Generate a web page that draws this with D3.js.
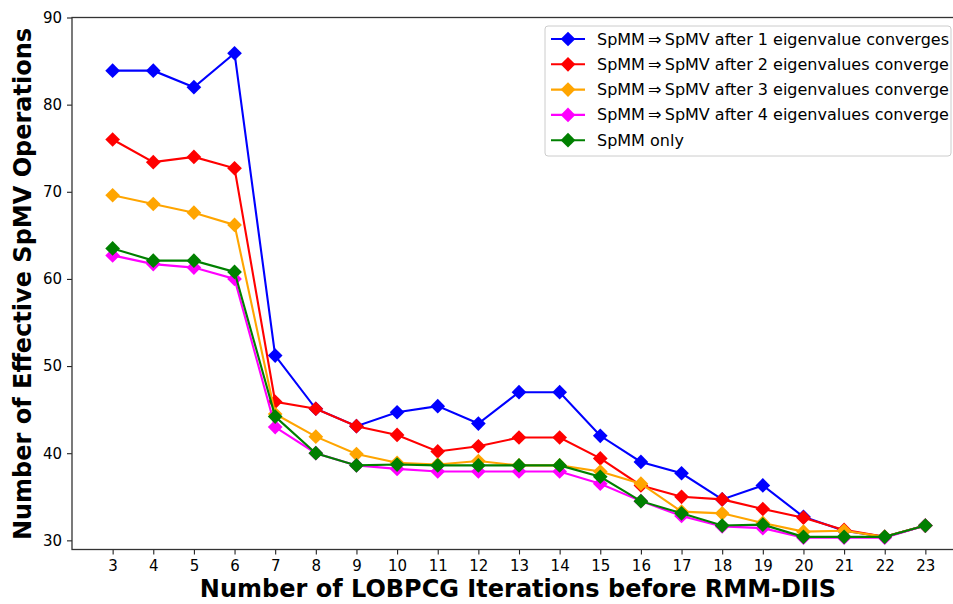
<!DOCTYPE html>
<html><head><meta charset="utf-8">
<script src="https://cdn.jsdelivr.net/npm/d3@7"></script>
<style>body{margin:0;background:#fff}svg{display:block}</style>
</head><body>
<script>
const iterations = [3,4,5,6,7,8,9,10,11,12,13,14,15,16,17,18,19,20,21,22,23];
const after1 = [83.9,83.9,82.0,85.9,51.2,45.1,43.1,44.7,45.4,43.4,47.0,47.0,42.0,39.0,37.7,34.7,36.3,32.7,31.1,30.4,31.7];
const after2 = [76.0,73.4,74.0,72.7,45.9,45.1,43.1,42.1,40.2,40.8,41.8,41.8,39.4,36.3,35.0,34.7,33.6,32.6,31.2,30.4,31.7];
const after3 = [69.6,68.6,67.6,66.2,44.5,41.9,39.9,38.9,38.7,39.1,38.6,38.6,37.9,36.5,33.3,33.1,32.0,31.0,31.1,30.4,31.7];
const after4 = [62.7,61.7,61.3,60.0,43.0,40.0,38.6,38.2,37.9,37.9,37.9,37.9,36.5,34.5,32.8,31.6,31.4,30.3,30.3,30.3,31.7];
const spmmOnly = [63.5,62.1,62.1,60.8,44.2,40.0,38.6,38.7,38.6,38.6,38.6,38.6,37.3,34.5,33.1,31.7,31.8,30.4,30.4,30.4,31.7];
const seriesNames = [
  "SpMM\u2009\u21D2\u2009SpMV after 1 eigenvalue converges",
  "SpMM\u2009\u21D2\u2009SpMV after 2 eigenvalues converge",
  "SpMM\u2009\u21D2\u2009SpMV after 3 eigenvalues converge",
  "SpMM\u2009\u21D2\u2009SpMV after 4 eigenvalues converge",
  "SpMM only"
];
const seriesColors = ["#0000ff","#ff0000","#ffa500","#ff00ff","#008000"];
const yTicks = [30,40,50,60,70,80,90];
const xLabel = "Number of LOBPCG Iterations before RMM-DIIS";
const yLabel = "Number of Effective SpMV Operations";

const allSeries = [after1, after2, after3, after4, spmmOnly];
const W = 953, H = 604;
const m = {left:72, top:17.5, right:-13, bottom:54.5};
const svg = d3.select("body").append("svg").attr("width",W).attr("height",H)
  .style("font-family","'DejaVu Sans', sans-serif");
const x = d3.scaleLinear().domain([2,24]).range([m.left, W - m.right]);
const y = d3.scaleLinear().domain([28.95,90]).range([H - m.bottom, m.top]);

// axes
const gx = svg.append("g").attr("transform",`translate(0,${H-m.bottom})`)
  .call(d3.axisBottom(x).tickValues(iterations).tickFormat(d3.format("d")).tickSize(5).tickPadding(6));
const gy = svg.append("g").attr("transform",`translate(${m.left},0)`)
  .call(d3.axisLeft(y).tickValues(yTicks).tickSize(5).tickPadding(5));
[gx,gy].forEach(g=>{
  g.selectAll("text").style("font-size","15px").attr("fill","#000").style("font-family","'DejaVu Sans', sans-serif");
  g.selectAll("line").attr("stroke","#222").attr("stroke-width",1.1);
  g.select(".domain").remove();
});
// frame
svg.append("rect").attr("x",m.left).attr("y",m.top)
  .attr("width",x.range()[1]-m.left).attr("height",y.range()[0]-m.top)
  .attr("fill","none").attr("stroke","#333").attr("stroke-width",1.3);

const diamond = d3.symbol().type(d3.symbolSquare).size(108);
allSeries.forEach((vals,i)=>{
  const pts = iterations.map((it,j)=>[it, vals[j]]);
  const g = svg.append("g");
  g.append("path").datum(pts)
    .attr("d", d3.line().x(d=>x(d[0])).y(d=>y(d[1])))
    .attr("fill","none").attr("stroke",seriesColors[i]).attr("stroke-width",2.1);
  g.selectAll("path.m").data(pts).join("path").attr("class","m")
    .attr("d", diamond)
    .attr("transform", d=>`translate(${x(d[0])},${y(d[1])}) rotate(45)`)
    .attr("fill",seriesColors[i]);
});

// axis labels
svg.append("text").attr("x",518).attr("y",597).attr("text-anchor","middle")
  .style("font-size","24px").style("font-weight","bold").text(xLabel);
svg.append("text").attr("transform",`translate(31,284) rotate(-90)`)
  .attr("text-anchor","middle").style("font-size","24px").style("font-weight","bold").text(yLabel);

// legend
const lg = svg.append("g").attr("transform","translate(545,26)");
lg.append("rect").attr("width",406).attr("height",130).attr("rx",3)
  .attr("fill","#fff").attr("fill-opacity",0.8).attr("stroke","#ccc").attr("stroke-width",1);
seriesNames.forEach((name,i)=>{
  const yy = 13 + i*25.3;
  lg.append("line").attr("x1",6).attr("x2",40).attr("y1",yy).attr("y2",yy)
    .attr("stroke",seriesColors[i]).attr("stroke-width",2.1);
  lg.append("path").attr("d",diamond).attr("transform",`translate(23,${yy}) rotate(45)`).attr("fill",seriesColors[i]);
  lg.append("text").attr("x",52).attr("y",yy+5.5).style("font-size","16px").attr("fill","#000").text(name);
});
</script>
</body></html>
